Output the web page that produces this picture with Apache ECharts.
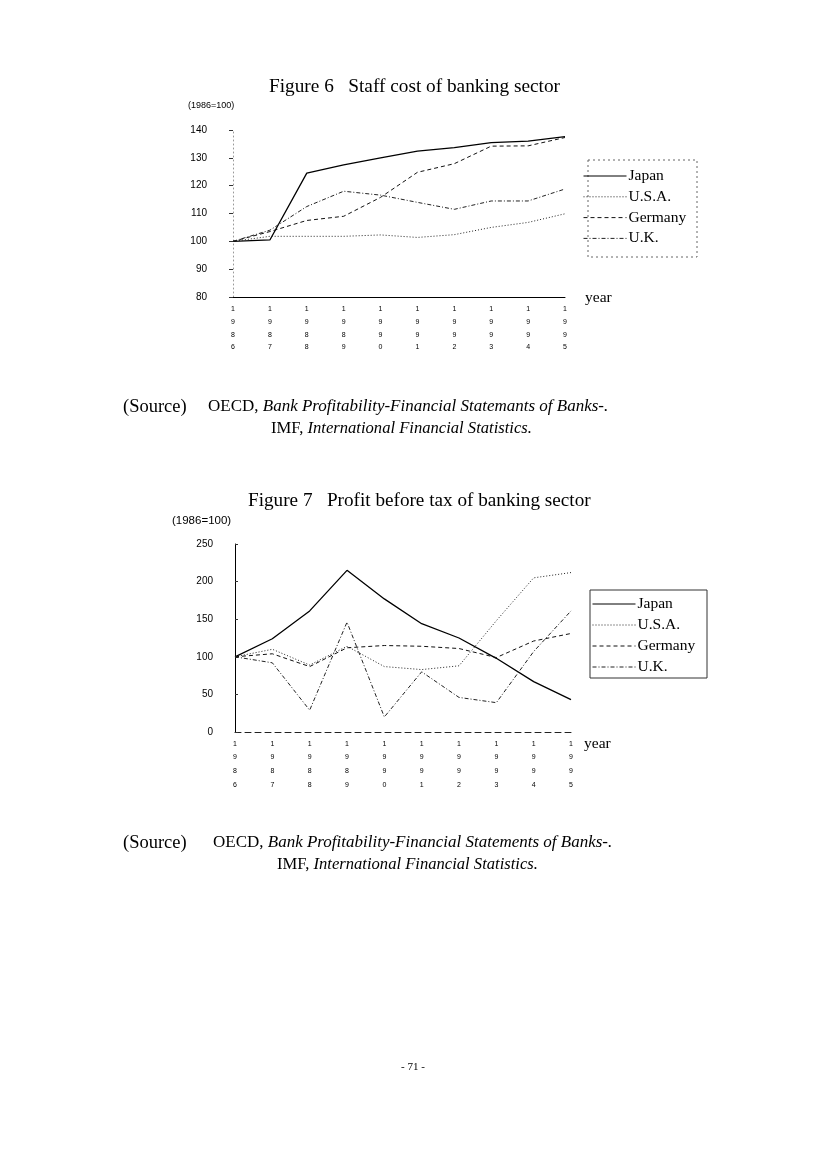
<!DOCTYPE html>
<html><head><meta charset="utf-8">
<script src="https://cdn.jsdelivr.net/npm/echarts@6/dist/echarts.min.js"></script>
<style>html,body{margin:0;padding:0;background:#fff}#c{width:827px;height:1170px}</style>
</head><body><div id="c"></div>
<script>
// ---------- data ----------
const years = ['1986','1987','1988','1989','1990','1991','1992','1993','1994','1995'];
const seriesNames = ['Japan','U.S.A.','Germany','U.K.'];

// Figure 6: Staff cost of banking sector (1986=100)
const staffJapan   = [100, 100.5, 124.5, 127.5, 130, 132.4, 133.7, 135.5, 136, 137.6];
const staffUSA     = [100, 101.8, 101.8, 101.8, 102.3, 101.4, 102.4, 105, 106.8, 109.9];
const staffGermany = [100, 103.5, 107.5, 109, 115.8, 124.8, 127.9, 134.2, 134.3, 137.3];
const staffUK      = [100, 104, 112.5, 118, 116.6, 114, 111.5, 114.5, 114.5, 118.8];
const staffTicks   = [80, 90, 100, 110, 120, 130, 140];

// Figure 7: Profit before tax of banking sector (1986=100)
const profitJapan   = [100, 124, 161, 215, 177, 144, 125, 98, 67, 43];
const profitUSA     = [100, 110, 89, 114, 87, 83, 88, 148, 205, 212];
const profitGermany = [100, 104, 87, 112, 115, 114, 111, 99, 121, 131];
const profitUK      = [100, 92, 29, 146, 20, 80, 46, 39, 107, 161];
const profitTicks   = [0, 50, 100, 150, 200, 250];

// ---------- styles ----------
const SERIF = 'Liberation Serif';
const SANS = 'Liberation Sans';
const lineStyles = {
  'Japan':   {color:'#000', width:1.3, type:'solid'},
  'U.S.A.':  {color:'#222', width:1, type:[1,2]},
  'Germany': {color:'#111', width:1, type:[4,3]},
  'U.K.':    {color:'#222', width:1, type:[4,2,1,2]}
};
function mk(name, data, idx){
  return {name, type:'line', xAxisIndex:idx, yAxisIndex:idx, data, symbol:'none', showSymbol:false,
    lineStyle: lineStyles[name], itemStyle:{color: lineStyles[name].color}, animation:false, z:3};
}
const xLabel = (m, lh) => ({interval:0, fontSize:7, fontFamily:SANS, color:'#000', lineHeight:lh, margin:m,
  formatter: v => v.split('').join('\n')});
const legendBase = {data:seriesNames, orient:'vertical', itemWidth:43, itemHeight:14, padding:0,
  itemStyle:{opacity:0}, lineStyle:{width:1},
  textStyle:{fontFamily:SERIF, fontSize:15.5, color:'#000', padding:[0,0,0,-3]}, selectedMode:false};
const txt = (x, y, text, font, extra) => ({type:'text', x, y, silent:true,
  style:Object.assign({text, font, fill:'#000', verticalAlign:'middle'}, extra || {})});
const italicRich = size => ({i:{fontStyle:'italic', fontFamily:SERIF, fontSize:size, fill:'#000'}});

const chart = echarts.init(document.getElementById('c'), null, {renderer:'canvas'});
chart.setOption({
  backgroundColor:'#fff',
  animation:false,
  grid:[
    {left:233, top:130, width:332, height:167},
    {left:235, top:544, width:336, height:188}
  ],
  xAxis:[
    {gridIndex:0, type:'category', data:years, boundaryGap:false,
     axisLine:{lineStyle:{color:'#000', width:1}}, axisTick:{show:false}, axisLabel:xLabel(6,12.7), splitLine:{show:false}},
    {gridIndex:1, type:'category', data:years, boundaryGap:false,
     axisLine:{lineStyle:{color:'#222', width:1, type:[6,4]}}, axisTick:{show:false}, axisLabel:xLabel(5,13.7), splitLine:{show:false}}
  ],
  yAxis:[
    {gridIndex:0, type:'value', min:staffTicks[0], max:staffTicks[staffTicks.length-1], interval:10,
     axisLine:{show:true, lineStyle:{color:'#999', width:1, type:[1,3]}},
     axisTick:{show:true, length:4, lineStyle:{color:'#333'}},
     axisLabel:{fontSize:10, fontFamily:SANS, color:'#000', margin:26}, splitLine:{show:false}},
    {gridIndex:1, type:'value', min:profitTicks[0], max:profitTicks[profitTicks.length-1], interval:50,
     axisLine:{show:true, lineStyle:{color:'#000', width:1}},
     axisTick:{show:true, inside:true, length:3, lineStyle:{color:'#333'}},
     axisLabel:{fontSize:10, fontFamily:SANS, color:'#000', margin:22}, splitLine:{show:false}}
  ],
  legend:[
    Object.assign({}, legendBase, {left:583, top:168, itemGap:4.8}),
    Object.assign({}, legendBase, {left:592, top:596, itemGap:5})
  ],
  series:[
    mk('Japan', staffJapan, 0), mk('U.S.A.', staffUSA, 0), mk('Germany', staffGermany, 0), mk('U.K.', staffUK, 0),
    mk('Japan', profitJapan, 1), mk('U.S.A.', profitUSA, 1), mk('Germany', profitGermany, 1), mk('U.K.', profitUK, 1)
  ],
  graphic:[
    // legend boxes
    {type:'rect', silent:true, shape:{x:588, y:160, width:109, height:97}, style:{fill:null, stroke:'#666', lineWidth:1, lineDash:[2,3]}},
    {type:'rect', silent:true, shape:{x:590, y:590, width:117, height:88}, style:{fill:null, stroke:'#333', lineWidth:1}},
    // titles
    txt(269, 87, 'Figure 6   Staff cost of banking sector', '19.3px "Liberation Serif"'),
    txt(248, 501, 'Figure 7   Profit before tax of banking sector', '19.2px "Liberation Serif"'),
    // units
    txt(188, 106, '(1986=100)', '9px "Liberation Sans"'),
    txt(172, 521, '(1986=100)', '11.5px "Liberation Sans"'),
    // year labels
    txt(585, 298, 'year', '15.5px "Liberation Serif"'),
    txt(584, 744, 'year', '15.5px "Liberation Serif"'),
    // sources fig 6
    txt(123, 407, '(Source)', '18.5px "Liberation Serif"'),
    txt(208, 407, 'OECD, {i|Bank Profitability-Financial Statemants of Banks-.}', '17px "Liberation Serif"', {rich:italicRich(17)}),
    txt(271, 429, 'IMF, {i|International Financial Statistics.}', '16.6px "Liberation Serif"', {rich:italicRich(16.6)}),
    // sources fig 7
    txt(123, 843, '(Source)', '18.5px "Liberation Serif"'),
    txt(213, 843, 'OECD, {i|Bank Profitability-Financial Statements of Banks-.}', '17px "Liberation Serif"', {rich:italicRich(17)}),
    txt(277, 865, 'IMF, {i|International Financial Statistics.}', '16.6px "Liberation Serif"', {rich:italicRich(16.6)}),
    // page number
    txt(413, 1067, '- 71 -', '11px "Liberation Serif"', {align:'center'})
  ]
});
</script></body></html>
